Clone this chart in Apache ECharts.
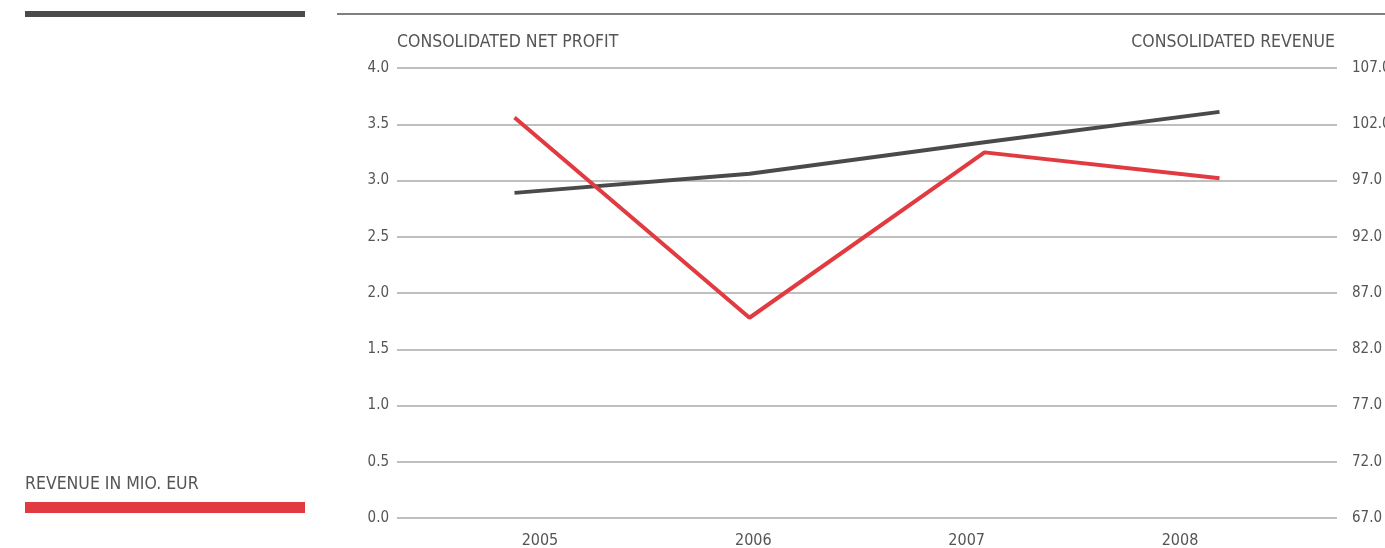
<!DOCTYPE html>
<html>
<head>
<meta charset="utf-8">
<script src="https://cdn.jsdelivr.net/npm/echarts@6/dist/echarts.min.js"></script>
<style>
  html, body { margin: 0; padding: 0; background: #fff; overflow: hidden; }
  #chart { width: 1385px; height: 548px; }
</style>
</head>
<body>
<div id="chart"></div>
<script>
const years = ['2005', '2006', '2007', '2008'];
const netProfit = [2.89, 3.06, 3.34, 3.61];      // left axis, dark line
const revenue = [102.6, 84.8, 99.5, 97.2];       // right axis, red line
const leftTicks = { min: 0, max: 4, step: 0.5 };
const rightTicks = { min: 67, max: 107, step: 5 };

const FONT = '"DejaVu Sans Condensed", "Liberation Sans Narrow", sans-serif';
const TEXT = '#555';
const RED = '#e13a40';
const DARK = '#4a4a4a';

const chart = echarts.init(document.getElementById('chart'));

chart.setOption({
  animation: false,
  backgroundColor: '#fff',
  // right-hand labels run off the edge in the original, so don't let v6 squeeze the grid
  grid: { left: 397, right: 48, top: 68, bottom: 30, outerBoundsMode: 'none' },
  xAxis: [
    {
      type: 'category',
      data: years,
      boundaryGap: true,
      axisLine: { show: false },
      axisTick: { show: false },
      axisLabel: { show: false },
      splitLine: { show: false }
    },
    {
      // year labels sit a bit off the data points in the original
      type: 'value',
      position: 'bottom',
      min: 2004.33,
      max: 2008.736,
      axisLine: { show: false },
      axisTick: { show: false },
      splitLine: { show: false },
      axisLabel: {
        customValues: years.map(Number),
        formatter: (v) => String(Math.round(v)),
        color: TEXT,
        fontFamily: FONT,
        fontSize: 16,
        margin: 15
      }
    }
  ],
  yAxis: [
    {
      type: 'value',
      min: leftTicks.min,
      max: leftTicks.max,
      interval: leftTicks.step,
      name: 'CONSOLIDATED NET PROFIT',
      nameLocation: 'end',
      nameGap: 26,
      nameTextStyle: { color: TEXT, fontFamily: FONT, fontSize: 17.5, align: 'left', verticalAlign: 'middle' },
      axisLine: { show: false },
      axisTick: { show: false },
      axisLabel: {
        color: TEXT, fontFamily: FONT, fontSize: 15, margin: 8,
        formatter: (v) => v.toFixed(1)
      },
      splitLine: { lineStyle: { color: '#aaa', width: 1.5 } }
    },
    {
      type: 'value',
      min: rightTicks.min,
      max: rightTicks.max,
      interval: rightTicks.step,
      name: 'CONSOLIDATED REVENUE',
      nameLocation: 'end',
      nameGap: 26,
      nameTextStyle: { color: TEXT, fontFamily: FONT, fontSize: 17.5, align: 'right', verticalAlign: 'middle', padding: [0, 2, 0, 0] },
      axisLine: { show: false },
      axisTick: { show: false },
      axisLabel: {
        color: TEXT, fontFamily: FONT, fontSize: 15, margin: 15,
        formatter: (v) => v.toFixed(1)
      },
      splitLine: { show: false }
    }
  ],
  series: [
    {
      name: 'Consolidated net profit',
      type: 'line',
      xAxisIndex: 0,
      yAxisIndex: 0,
      data: netProfit,
      symbol: 'none',
      lineStyle: { color: DARK, width: 4 },
      z: 2
    },
    {
      name: 'Revenue in Mio. EUR',
      type: 'line',
      xAxisIndex: 0,
      yAxisIndex: 1,
      data: revenue,
      symbol: 'none',
      lineStyle: { color: RED, width: 4 },
      z: 3
    }
  ],
  graphic: [
    { type: 'rect', left: 25, top: 11, shape: { width: 280, height: 6 }, style: { fill: DARK } },
    { type: 'line', shape: { x1: 337, y1: 14, x2: 1385, y2: 14 }, style: { stroke: '#555', lineWidth: 1.5 } },
    {
      type: 'text', left: 25, top: 475,
      style: { text: 'REVENUE IN MIO. EUR', fill: TEXT, font: '17.5px ' + FONT }
    },
    { type: 'rect', left: 25, top: 502, shape: { width: 280, height: 11 }, style: { fill: RED } }
  ]
});
</script>
</body>
</html>
